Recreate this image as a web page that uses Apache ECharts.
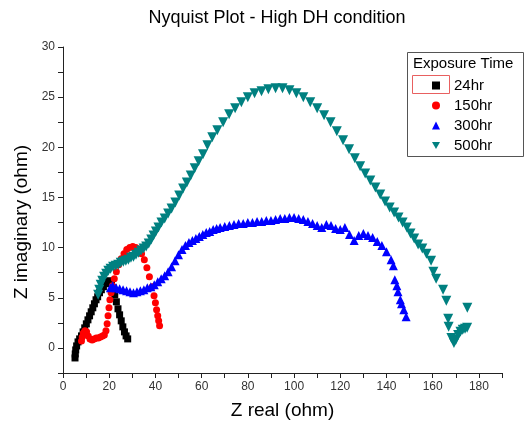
<!DOCTYPE html>
<html>
<head>
<meta charset="utf-8">
<script src="https://cdn.jsdelivr.net/npm/echarts@6/dist/echarts.min.js"></script>
<style>html,body{margin:0;padding:0;background:#fff}#c{width:525px;height:425px}</style>
</head>
<body>
<div id="c"></div>
<script>
var seriesNames = ['24hr', '150hr', '300hr', '500hr'];
var xTicks = [0, 20, 40, 60, 80, 100, 120, 140, 160, 180];
var yTicks = [0, 5, 10, 15, 20, 25, 30];

var data24 = [[5.2,-1.0],[5.3,-0.6],[5.5,-0.2],[5.9,0.2],[6.5,0.6],[7.2,0.9],[8.0,1.2],[8.7,1.6],[9.4,2.0],[10.1,2.4],[10.8,2.8],[11.5,3.2],[12.2,3.6],[12.9,4.0],[13.6,4.4],[14.3,4.8],[15.0,5.1],[15.8,5.5],[16.6,5.8],[17.5,6.1],[18.4,6.4],[19.3,6.6],[20.2,6.7],[21.0,6.5],[21.7,6.0],[22.4,5.3],[23.1,4.6],[23.8,3.9],[24.5,3.3],[25.2,2.7],[25.9,2.1],[26.6,1.6],[27.3,1.2],[28.0,0.9]];

var data150 = [[8.0,0.7],[8.3,1.1],[8.8,1.5],[9.5,1.7],[10.2,1.6],[10.9,1.2],[11.7,0.9],[12.6,0.8],[13.5,0.9],[14.4,1.0],[15.3,1.0],[16.2,1.1],[17.1,1.2],[17.9,1.3],[18.6,1.7],[19.1,2.4],[19.5,3.2],[19.9,4.0],[20.3,4.8],[20.8,5.5],[21.4,6.2],[22.2,6.9],[23.1,7.6],[24.1,8.3],[25.2,8.9],[26.4,9.4],[27.6,9.8],[28.9,10.0],[30.2,10.1],[31.5,10.0],[32.8,9.8],[34.0,9.4],[35.2,8.8],[36.3,8.0],[37.4,7.1],[38.6,6.1],[39.4,5.2],[40.0,4.5],[40.5,3.8],[41.0,3.2],[41.4,2.7],[41.8,2.2]];

var data300 = [[20.5,6.0],[21.5,6.2],[23,6.0],[24.5,5.9],[26,5.8],[27.5,5.7],[29,5.6],[30.5,5.5],[32,5.6],[33.5,5.7],[35,5.8],[36.5,6.0],[38,6.1],[39.5,6.3],[41,6.6],[42.5,6.9],[44,7.2],[45.5,7.6],[47,8.1],[48.5,8.7],[50,9.3],[51.5,9.8],[53,10.2],[54.5,10.5],[56,10.7],[57.5,10.9],[59,11.1],[60.5,11.3],[62,11.5],[63.5,11.6],[65,11.8],[66.5,11.9],[68,12.0],[70,12.1],[72,12.2],[74,12.3],[76,12.4],[78,12.4],[80,12.5],[82,12.5],[84,12.6],[86,12.6],[88,12.7],[90,12.7],[92,12.8],[94,12.9],[96,12.9],[98,13.0],[100,13.0],[102,12.9],[104,12.8],[106,12.6],[108,12.4],[110,12.2],[112,12.0],[114,12.3],[116,12.2],[118,11.9],[120,11.8],[122,12.0],[124,11.3],[126,10.7],[128,11.2],[130,11.4],[132,11.2],[134,11.0],[136,10.6],[138,10.2],[140,9.6],[142,8.8],[143,8.2],[143.6,6.8],[144.5,6.2],[145,5.6],[146,4.8],[146.5,4.4],[147.5,3.8],[148.5,3.1]];

var data500 = [[15.2,5.3],[15.7,5.8],[16.3,6.3],[17.0,6.7],[17.8,7.1],[18.7,7.4],[19.6,7.7],[20.6,7.9],[21.7,8.1],[22.8,8.2],[23.9,8.3],[25.0,8.5],[26.1,8.6],[27.2,8.7],[28.3,8.8],[29.4,9.0],[30.5,9.1],[31.6,9.3],[32.7,9.5],[33.8,9.7],[34.9,9.9],[36.0,10.1],[37.1,10.4],[38.2,10.8],[39.2,11.2],[40.2,11.6],[41.3,12.0],[42.6,12.5],[44.0,12.9],[45.5,13.4],[47.0,13.9],[48.6,14.5],[50.3,15.2],[52.0,15.9],[53.6,16.5],[55.3,17.2],[57.0,17.9],[58.7,18.6],[60.6,19.3],[62.5,20.2],[64.6,21.0],[66.8,21.7],[69.3,22.5],[71.9,23.3],[74.5,23.9],[77.2,24.5],[80.0,25.0],[82.9,25.4],[85.9,25.6],[88.9,25.8],[92.0,25.9],[95.0,25.9],[98.0,25.7],[101.0,25.4],[104.0,25.0],[107.0,24.5],[110.0,23.9],[113.0,23.2],[115.8,22.5],[118.5,21.6],[121.2,20.7],[123.8,19.8],[126.3,18.9],[128.6,18.1],[130.8,17.4],[133.0,16.7],[135.2,16.0],[137.3,15.3],[139.4,14.6],[141.4,14.0],[143.3,13.5],[145.2,13.0],[147.0,12.5],[148.8,12.0],[150.4,11.4],[152.0,10.9],[153.7,10.3],[155.5,9.9],[157.3,9.4],[159.3,8.7],[160.3,7.6],[161.5,6.9],[164.5,5.8],[165.9,4.7],[166.7,2.9],[166.9,2.1],[168.1,1.0],[169.2,0.5],[170.0,0.8],[171.0,1.3],[172.0,1.6],[173.0,1.8],[174.0,1.9],[174.9,2.0],[175.0,4.0]];

var FONT = 'Liberation Sans, Arial, sans-serif';
var chart = echarts.init(document.getElementById('c'), null, {renderer: 'canvas'});

function mk(name, data, symbol, size, color) {
  return {
    name: name, type: 'scatter', data: data, symbol: symbol, symbolSize: size,
    itemStyle: {color: color, opacity: 1}, emphasis: {disabled: true}, z: 3
  };
}

chart.setOption({
  animation: false,
  backgroundColor: '#ffffff',
  grid: {left: 63, right: 23, top: 47, bottom: 51, containLabel: false},
  xAxis: {
    type: 'value', min: 0, max: 190, interval: 10,
    name: 'Z real (ohm)', nameLocation: 'middle', nameGap: 28,
    nameTextStyle: {fontFamily: FONT, fontSize: 19, color: '#000'},
    axisLine: {show: true, onZero: false, lineStyle: {color: '#222', width: 1}},
    axisTick: {show: true, length: 5, lineStyle: {color: '#222'}},
    axisLabel: {
      fontFamily: FONT, fontSize: 12, color: '#333', margin: 8,
      formatter: function (v) { return xTicks.indexOf(v) >= 0 ? String(v) : ''; }
    },
    splitLine: {show: false}
  },
  yAxis: {
    type: 'value', min: -2.5, max: 30, interval: 2.5,
    axisLine: {show: true, onZero: false, lineStyle: {color: '#222', width: 1}},
    axisTick: {show: true, length: 5, lineStyle: {color: '#222'}},
    axisLabel: {
      fontFamily: FONT, fontSize: 12, color: '#333', margin: 8,
      formatter: function (v) { return yTicks.indexOf(v) >= 0 ? String(v) : ''; }
    },
    splitLine: {show: false}
  },
  legend: {
    orient: 'vertical', left: 427, top: 73,
    itemWidth: 8, itemHeight: 8, itemGap: 5,
    textStyle: {fontFamily: FONT, fontSize: 15, color: '#000', lineHeight: 15, padding: [0, 0, 0, 9]},
    data: seriesNames, selectedMode: false
  },
  graphic: [
    {type: 'rect', shape: {x: 407.5, y: 52.5, width: 116, height: 104}, style: {fill: '#fff', stroke: '#555', lineWidth: 1}, z: 0, silent: true},
    {type: 'text', x: 413, y: 64, style: {text: 'Exposure Time', font: '15px ' + FONT, fill: '#000', textVerticalAlign: 'middle'}, z: 10},
    {type: 'rect', shape: {x: 412.5, y: 75.5, width: 37, height: 18}, style: {fill: 'none', stroke: '#e86060', lineWidth: 1}, z: 10, silent: true},
    {type: 'text', x: 277, y: 18, style: {text: 'Nyquist Plot - High DH condition', font: '18px ' + FONT, fill: '#000', textAlign: 'center', textVerticalAlign: 'middle'}, z: 10},
    {type: 'text', x: 22, y: 222, rotation: Math.PI / 2, style: {text: 'Z imaginary (ohm)', font: '19px ' + FONT, fill: '#000', textAlign: 'center', textVerticalAlign: 'middle'}, z: 10}
  ],
  series: [
    mk('24hr', data24, 'rect', 7, '#000000'),
    mk('150hr', data150, 'circle', 7, '#ff0000'),
    mk('300hr', data300, 'triangle', 9, '#0000ff'),
    mk('500hr', data500, 'path://M0,0 L10,0 L5,9 Z', 10, '#008080')
  ]
});
</script>
</body>
</html>
